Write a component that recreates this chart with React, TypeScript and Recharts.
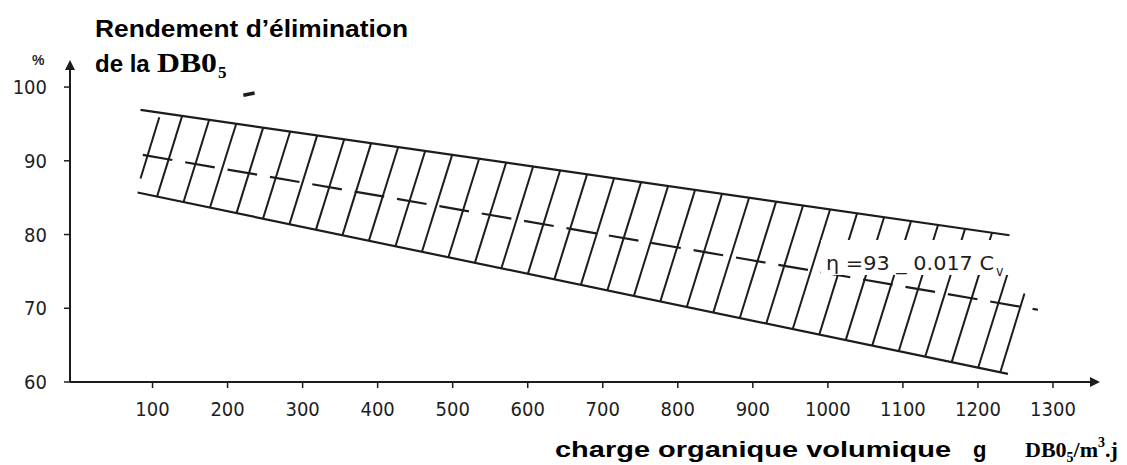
import React from "react";
import { LineChart, Line, XAxis, YAxis } from "recharts";

// axis ticks
const X_TICKS = [100, 200, 300, 400, 500, 600, 700, 800, 900, 1000, 1100, 1200, 1300];
const Y_TICKS = [60, 70, 80, 90, 100];

// band limits and the mean line
const UPPER = [
  { x: 84, y: 96.9 },
  { x: 1242, y: 79.9 },
];
const LOWER = [
  { x: 80, y: 85.7 },
  { x: 1240, y: 61.1 },
];
const TREND = [
  { x: 87, y: 90.8 },
  { x: 1280, y: 69.8 },
];

// hatching strokes: [x foot, y foot, x head, y head]
const HATCH = [
  [84, 87.6, 109, 95.9],
  [106.0, 85.16, 139.4, 96.06],
  [141.3, 84.41, 175.4, 95.53],
  [176.6, 83.66, 211.4, 95.0],
  [211.9, 82.91, 247.3, 94.47],
  [247.2, 82.16, 283.3, 93.94],
  [282.5, 81.41, 319.3, 93.41],
  [317.8, 80.66, 355.3, 92.89],
  [353.1, 79.92, 391.2, 92.36],
  [388.4, 79.17, 427.2, 91.83],
  [423.7, 78.42, 463.2, 91.3],
  [459.0, 77.67, 499.2, 90.77],
  [494.3, 76.92, 535.1, 90.24],
  [529.6, 76.17, 571.1, 89.71],
  [564.9, 75.42, 607.1, 89.19],
  [600.2, 74.67, 643.1, 88.66],
  [635.5, 73.92, 679.0, 88.13],
  [670.8, 73.17, 715.0, 87.6],
  [706.1, 72.42, 751.0, 87.07],
  [741.4, 71.67, 787.0, 86.54],
  [776.7, 70.93, 822.9, 86.01],
  [812.0, 70.18, 858.9, 85.49],
  [847.3, 69.43, 894.9, 84.96],
  [882.6, 68.68, 930.9, 84.43],
  [917.9, 67.93, 966.8, 83.9],
  [953.2, 67.18, 1002.8, 83.37],
  [988.5, 66.43, 1038.8, 82.84],
  [1023.8, 65.68, 1074.8, 82.31],
  [1059.1, 64.93, 1110.7, 81.79],
  [1094.4, 64.18, 1146.7, 81.26],
  [1129.7, 63.43, 1182.7, 80.73],
  [1165.0, 62.69, 1218.7, 80.2],
  [1200.3, 61.94, 1242, 75.5],
  [1230, 61.4, 1262, 72.0],
];

// stray ink blot above the band in the scan
const BLOT = [
  { x: 221, y: 98.9 },
  { x: 236, y: 99.2 },
];

const INK = "#1c1c1c";
const tickStyle = {
  fontFamily: "'DejaVu Sans Condensed', sans-serif",
  fontSize: 20,
  fill: "#1e1e1e",
};
const sans = "'Liberation Sans', Arial, sans-serif";
const serif = "'Liberation Serif', 'Times New Roman', serif";

export default function App() {
  return (
    <div
      style={{
        position: "absolute",
        left: 0,
        top: 0,
        width: 1127,
        height: 465,
        background: "#fff",
        overflow: "hidden",
      }}
    >
      <LineChart
        width={1127}
        height={465}
        margin={{ top: 62, right: 29, bottom: 0, left: 0 }}
      >
        <defs>
          <marker
            id="axis-arrow"
            viewBox="0 0 10 10"
            refX="8"
            refY="5"
            markerWidth="6"
            markerHeight="5"
            orient="auto-start-reverse"
          >
            <path d="M0,0 L10,5 L0,10 z" fill={INK} />
          </marker>
        </defs>
        <XAxis
          type="number"
          dataKey="x"
          domain={[-10, 1360]}
          allowDataOverflow
          ticks={X_TICKS}
          tick={tickStyle}
          tickSize={6}
          tickMargin={14}
          tickLine={{ stroke: INK, strokeWidth: 1.5 }}
          axisLine={{ stroke: INK, strokeWidth: 2, markerEnd: "url(#axis-arrow)" }}
          height={83}
        />
        <YAxis
          type="number"
          dataKey="y"
          domain={[60, 103.4]}
          allowDataOverflow
          ticks={Y_TICKS}
          tick={tickStyle}
          tickSize={6}
          tickMargin={17}
          tickLine={{ stroke: INK, strokeWidth: 1.5 }}
          axisLine={{ stroke: INK, strokeWidth: 2, markerStart: "url(#axis-arrow)" }}
          width={70}
        />
        {HATCH.map((h, i) => (
          <Line
            key={"h" + i}
            data={[
              { x: h[0], y: h[1] },
              { x: h[2], y: h[3] },
            ]}
            dataKey="y"
            type="linear"
            stroke={INK}
            strokeWidth={2}
            dot={false}
            activeDot={false}
            legendType="none"
            isAnimationActive={false}
          />
        ))}
        <Line
          data={BLOT}
          dataKey="y"
          type="linear"
          stroke={INK}
          strokeWidth={3.5}
          dot={false}
          activeDot={false}
          isAnimationActive={false}
        />
        <Line
          data={UPPER}
          dataKey="y"
          type="linear"
          stroke={INK}
          strokeWidth={2.2}
          dot={false}
          activeDot={false}
          isAnimationActive={false}
        />
        <Line
          data={LOWER}
          dataKey="y"
          type="linear"
          stroke={INK}
          strokeWidth={2.2}
          dot={false}
          activeDot={false}
          isAnimationActive={false}
        />
        <Line
          data={TREND}
          dataKey="y"
          type="linear"
          stroke={INK}
          strokeWidth={2.2}
          strokeDasharray="30 13"
          dot={false}
          activeDot={false}
          isAnimationActive={false}
        />
      </LineChart>

      {/* titles and the formula, laid over the chart */}
      <svg
        width={1127}
        height={465}
        style={{ position: "absolute", left: 0, top: 0, pointerEvents: "none" }}
      >
        <rect x={821} y={240} width={194} height={35} fill="#fff" />
        <text
          x={826}
          y={270}
          fontFamily="'DejaVu Sans Condensed', sans-serif"
          fontSize={20}
          fill="#1e1e1e"
          textLength={168}
          lengthAdjust="spacingAndGlyphs"
        >
          η =93 _ 0.017 C
        </text>
        <text
          x={996}
          y={276}
          fontFamily="'DejaVu Sans Condensed', sans-serif"
          fontSize={14}
          fill="#1e1e1e"
        >
          v
        </text>

        <text x={32} y={65} fontFamily={sans} fontWeight={700} fontSize={14} fill="#2b2b2b">
          %
        </text>

        <text
          x={95}
          y={37}
          fontFamily={sans}
          fontWeight={700}
          fontSize={24}
          fill="#000"
          textLength={313}
          lengthAdjust="spacingAndGlyphs"
        >
          Rendement d’élimination
        </text>
        <text x={95} y={72} fontFamily={sans} fontWeight={700} fontSize={24} fill="#000">
          de la
        </text>
        <text
          x={157}
          y={72}
          fontFamily={serif}
          fontWeight={700}
          fontSize={27}
          fill="#000"
          textLength={60}
          lengthAdjust="spacingAndGlyphs"
        >
          DB0
        </text>
        <text x={218} y={78} fontFamily={serif} fontWeight={700} fontSize={17} fill="#000">
          5
        </text>

        <text
          x={555}
          y={457}
          fontFamily={sans}
          fontWeight={700}
          fontSize={22}
          fill="#000"
          textLength={396}
          lengthAdjust="spacingAndGlyphs"
        >
          charge organique volumique
        </text>
        <text x={973} y={457} fontFamily={sans} fontWeight={700} fontSize={22} fill="#000">
          g
        </text>
        <text x={1025} y={457} fontFamily={serif} fontWeight={700} fontSize={22} fill="#000">
          DB0
          <tspan fontSize={14} dy={5}>
            5
          </tspan>
          <tspan fontSize={22} dy={-5}>
            /m
          </tspan>
          <tspan fontSize={14} dy={-10}>
            3
          </tspan>
          <tspan fontSize={22} dy={10}>
            .j
          </tspan>
        </text>
      </svg>
    </div>
  );
}
